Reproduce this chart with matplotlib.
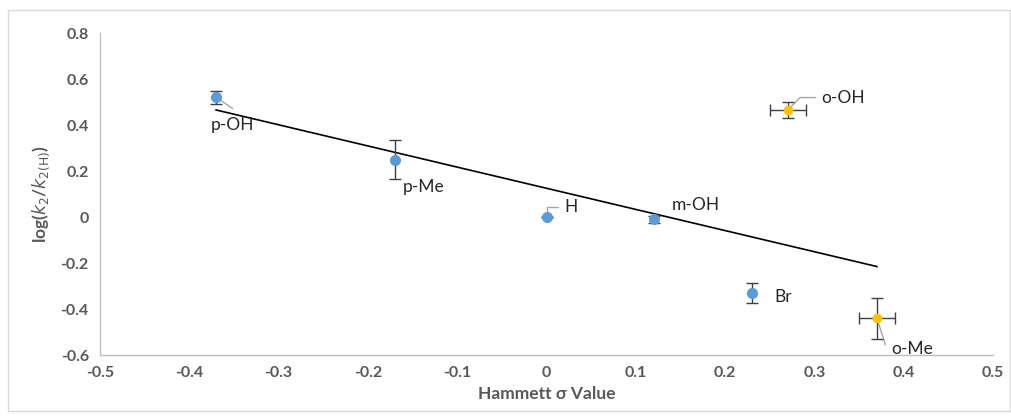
import matplotlib
matplotlib.use("Agg")
import matplotlib.pyplot as plt
from matplotlib.patches import Rectangle

# Data
labels_blue = ["p-OH", "p-Me", "H", "m-OH", "Br"]
sigma_blue = [-0.37, -0.17, 0.0, 0.12, 0.23]
logk_blue = [0.52, 0.25, 0.0, -0.01, -0.33]
yerr_blue = [0.03, 0.085, 0.0, 0.015, 0.045]

labels_orange = ["o-OH", "o-Me"]
sigma_orange = [0.27, 0.37]
logk_orange = [0.465, -0.44]
yerr_orange = [0.035, 0.09]
xerr_orange = [0.02, 0.02]

trend_slope = -0.92
trend_intercept = 0.125
trend_range = [-0.37, 0.37]

xticks = [-0.5, -0.4, -0.3, -0.2, -0.1, 0, 0.1, 0.2, 0.3, 0.4, 0.5]
yticks = [-0.6, -0.4, -0.2, 0, 0.2, 0.4, 0.6, 0.8]

plt.rcParams['font.family'] = ['Lato', 'DejaVu Sans']

fig = plt.figure(figsize=(10.12, 4.19), dpi=100)
fig.patches.append(Rectangle((0.008, 0.02), 0.99, 0.955, transform=fig.transFigure,
                             fill=False, edgecolor='#d9d9d9', linewidth=1.0))
ax = fig.add_axes([0.0988, 0.1527, 0.8825, 0.7685])

gray = '#595959'
ebc = '#404040'

# trendline
tx = trend_range
ty = [trend_slope * v + trend_intercept for v in tx]
ax.plot(tx, ty, color='black', linewidth=1.2, zorder=2)

ax.errorbar(sigma_blue, logk_blue, yerr=yerr_blue, fmt='o', color='#5B9BD5',
            markersize=7, ecolor=ebc, elinewidth=1.0, capsize=4, capthick=1.0, zorder=3)
ax.errorbar(sigma_orange, logk_orange, yerr=yerr_orange, xerr=xerr_orange, fmt='o',
            color='#FFC000', markersize=6, ecolor=ebc, elinewidth=1.0, capsize=4,
            capthick=1.0, zorder=3)

# labels: (text offsets in points, leader end, connection style)
label_specs = {
    "p-OH": ((-4, -20), (12, -8), None),
    "p-Me": ((6, -20), None, None),
    "H": ((13, 7), (8, 7), "angle,angleA=0,angleB=90,rad=0"),
    "m-OH": ((13, 10), None, None),
    "Br": ((16, -3), None, None),
    "o-OH": ((24, 9), (20, 9), "angle,angleA=0,angleB=45,rad=0"),
    "o-Me": ((10, -22), (6, -19), None),
}
all_labels = labels_blue + labels_orange
all_x = sigma_blue + sigma_orange
all_y = logk_blue + logk_orange
for lab, xv, yv in zip(all_labels, all_x, all_y):
    toff, lead, cs = label_specs[lab]
    ax.annotate(lab, (xv, yv), xytext=toff, textcoords='offset points',
                fontsize=12.5, color='#262626', ha='left', va='center', zorder=4)
    if lead is not None:
        props = dict(arrowstyle='-', color='#a6a6a6', lw=1.0, shrinkA=0, shrinkB=3)
        if cs is not None:
            props['connectionstyle'] = cs
        ax.annotate('', (xv, yv), xytext=lead, textcoords='offset points',
                    arrowprops=props, zorder=1)

ax.set_xlim(-0.5, 0.5)
ax.set_ylim(-0.6, 0.8)
ax.set_xticks(xticks)
ax.set_yticks(yticks)
ax.set_xticklabels([f"{v:g}" for v in xticks])
ax.set_yticklabels([f"{v:g}" for v in yticks])
ax.tick_params(axis='both', length=0, labelsize=11.5, labelcolor=gray, pad=8)
for t in ax.get_xticklabels() + ax.get_yticklabels():
    t.set_fontweight('bold')
for s in ['top', 'right']:
    ax.spines[s].set_visible(False)
for s in ['left', 'bottom']:
    ax.spines[s].set_color('#bfbfbf')
    ax.spines[s].set_linewidth(1.0)

ax.set_xlabel('Hammett σ Value', fontsize=12.5, color=gray, fontweight='bold', labelpad=4)
ax.set_ylabel(r'log($k_2$/$k_{2\mathrm{(H)}}$)', fontsize=12.5, color=gray,
              fontweight='bold', labelpad=6)

fig.savefig('out.png', dpi=100)
